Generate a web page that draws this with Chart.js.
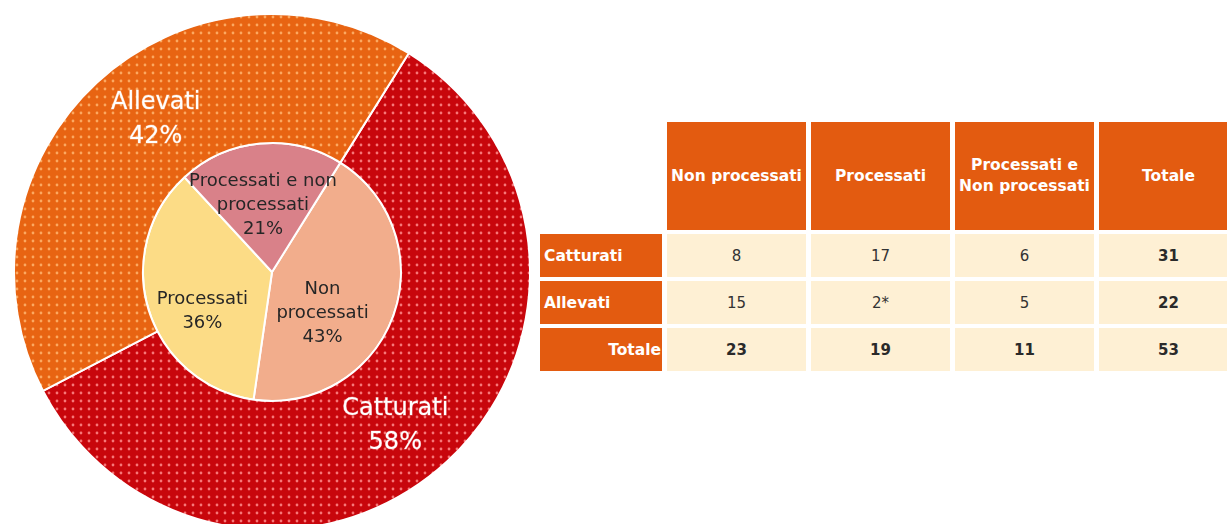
<!DOCTYPE html>
<html>
<head>
<meta charset="utf-8">
<script src="https://cdn.jsdelivr.net/npm/chart.js@4.4.1/dist/chart.umd.min.js"></script>
<style>
  html, body { margin: 0; padding: 0; background: #ffffff; width: 1227px; height: 524px; overflow: hidden; position: relative; }
  #chartBox { position: absolute; left: 13px; top: 13px; width: 518px; height: 518px; }
  #tbl { position: absolute; left: 535px; top: 118px; width: 708px; border-collapse: separate; border-spacing: 5px 4px; table-layout: fixed; font-family: "DejaVu Sans", sans-serif; }
  #tbl td, #tbl th { padding: 0; overflow: hidden; white-space: nowrap; box-sizing: border-box; }
  #tbl th.head { background: #E35B10; color: #ffffff; font-weight: bold; font-size: 15.5px; height: 108px; text-align: center; line-height: 21px; }
  #tbl th.corner { background: transparent; }
  #tbl th.rowh { background: #E35B10; color: #ffffff; font-weight: bold; font-size: 15.5px; height: 43px; text-align: left; padding-left: 4px; }
  #tbl th.rowh.right { text-align: right; padding-left: 0; padding-right: 1px; }
  #tbl td { background: #FEF0D4; color: #333333; font-size: 15px; text-align: center; height: 43px; }
  #tbl td.bold { font-weight: bold; color: #2a2a2a; }
</style>
</head>
<body>
<div id="chartBox"><canvas id="c"></canvas></div>
<table id="tbl">
  <colgroup><col style="width:122px"><col style="width:139px"><col style="width:139px"><col style="width:139px"><col style="width:139px"></colgroup>
</table>
<script>
// ---------- data ----------
const outerLabels = ['Catturati', 'Allevati'];
const outerValues = [31, 22];
const outerPercents = ['58%', '42%'];

const innerLabels = ['Non processati', 'Processati', 'Processati e non processati'];
const innerValues = [23, 19, 11];
const innerPercents = ['43%', '36%', '21%'];

const outerLabelLines = [['Catturati'], ['Allevati']];
const innerLabelLines = [['Non', 'processati'], ['Processati'], ['Processati e non', 'processati']];

const tableColumns = ['Non processati', 'Processati', 'Processati e|Non processati', 'Totale'];
const tableRowNames = ['Catturati', 'Allevati', 'Totale'];
const rowCatturati = ['8', '17', '6', '31'];
const rowAllevati = ['15', '2*', '5', '22'];
const rowTotale = ['23', '19', '11', '53'];

// ---------- styles ----------
const outerColors = ['#C8060C', '#E86412'];
const outerDotColors = ['rgba(255,140,140,0.85)', 'rgba(255,180,110,0.85)'];
const innerColors = ['#F2AD8C', '#FCDC86', '#D98189'];
const labelNudge = {
  outer: [[-8, 12], [15, -10]],
  inner: [[-10, 19], [-8, 20], [-3, -2]]
};

function makePattern(base, dot) {
  const s = 8;
  const t = document.createElement('canvas');
  t.width = s; t.height = s;
  const g = t.getContext('2d');
  g.fillStyle = base; g.fillRect(0, 0, s, s);
  g.fillStyle = dot;
  g.beginPath(); g.arc(s / 2, s / 2, 1.4, 0, Math.PI * 2); g.fill();
  return g.createPattern(t, 'repeat');
}

const labelPlugin = {
  id: 'sliceLabels',
  afterDatasetsDraw(chart) {
    const ctx = chart.ctx;
    ctx.save();
    ctx.textAlign = 'center';
    ctx.textBaseline = 'middle';
    const m0 = chart.getDatasetMeta(0);
    m0.data.forEach((arc, i) => {
      const p = arc.tooltipPosition();
      const lines = outerLabelLines[i].concat([outerPercents[i]]);
      const lh = 34;
      const cx = p.x + labelNudge.outer[i][0];
      const cy = p.y + labelNudge.outer[i][1];
      ctx.font = '24px "DejaVu Sans", sans-serif';
      ctx.fillStyle = '#ffffff';
      ctx.strokeStyle = 'rgba(255,255,255,0.35)';
      ctx.lineWidth = 0.8;
      lines.forEach((ln, k) => {
        const y = cy + (k - (lines.length - 1) / 2) * lh;
        ctx.fillText(ln, cx, y);
        ctx.strokeText(ln, cx, y);
      });
    });
    const m1 = chart.getDatasetMeta(1);
    m1.data.forEach((arc, i) => {
      const p = arc.tooltipPosition();
      const lines = innerLabelLines[i].concat([innerPercents[i]]);
      const lh = 24;
      const cx = p.x + labelNudge.inner[i][0];
      const cy = p.y + labelNudge.inner[i][1];
      ctx.font = '18px "DejaVu Sans", sans-serif';
      ctx.fillStyle = '#262626';
      lines.forEach((ln, k) => {
        ctx.fillText(ln, cx, cy + (k - (lines.length - 1) / 2) * lh);
      });
    });
    ctx.restore();
  }
};

new Chart(document.getElementById('c'), {
  type: 'doughnut',
  data: {
    labels: outerLabels,
    datasets: [
      {
        label: 'Origine',
        data: outerValues,
        backgroundColor: outerColors.map((c, i) => makePattern(c, outerDotColors[i])),
        borderColor: '#ffffff',
        borderWidth: 2
      },
      {
        label: 'Trattamento',
        labels: innerLabels,
        data: innerValues,
        backgroundColor: innerColors,
        borderColor: '#ffffff',
        borderWidth: 2
      }
    ]
  },
  options: {
    responsive: true,
    maintainAspectRatio: false,
    animation: false,
    cutout: 0,
    rotation: 32,
    layout: { padding: 0 },
    plugins: { legend: { display: false }, tooltip: { enabled: false } }
  },
  plugins: [labelPlugin]
});

// ---------- table ----------
(function buildTable() {
  const tbl = document.getElementById('tbl');
  let html = '<tr><th class="corner"></th>';
  tableColumns.forEach(c => { html += '<th class="head">' + c.split('|').join('<br>') + '</th>'; });
  html += '</tr>';
  const rows = [rowCatturati, rowAllevati, rowTotale];
  rows.forEach((r, ri) => {
    const isTot = ri === rows.length - 1;
    html += '<tr><th class="rowh' + (isTot ? ' right' : '') + '">' + tableRowNames[ri] + '</th>';
    r.forEach((v, ci) => {
      const bold = isTot || ci === r.length - 1;
      html += '<td' + (bold ? ' class="bold"' : '') + '>' + v + '</td>';
    });
    html += '</tr>';
  });
  tbl.insertAdjacentHTML('beforeend', html);
})();
</script>
</body>
</html>
